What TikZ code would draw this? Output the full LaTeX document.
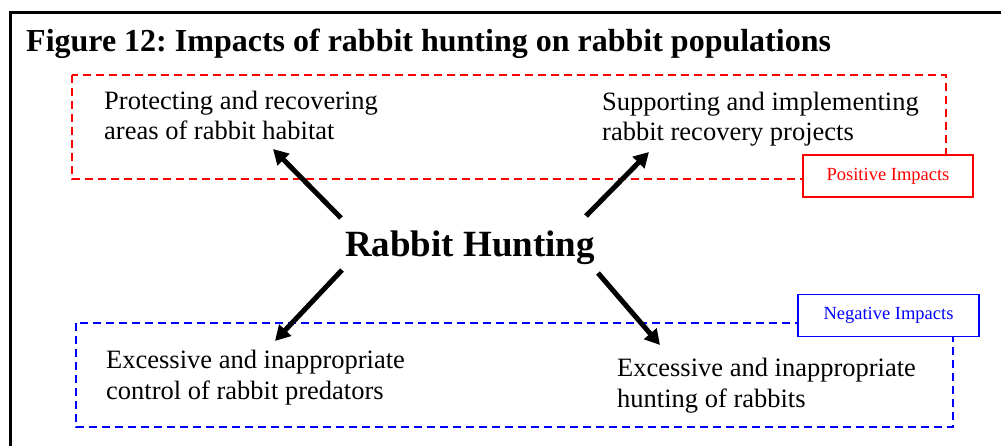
\documentclass[tikz,border=0pt]{standalone}
\usepackage{fontspec}
\setmainfont{Liberation Serif}
\usetikzlibrary{arrows.meta}
\frenchspacing
\begin{document}
\begin{tikzpicture}[x=1pt,y=-1pt,
  body/.style={inner sep=0pt,anchor=base west,align=left,font=\fontsize{26.5}{30.5}\selectfont},
  tag/.style={draw,line width=1.5pt,inner sep=0pt,minimum width=#1,minimum height=42pt,font=\fontsize{18.5}{20}\selectfont},
  zone/.style={dash pattern=on 8pt off 5pt,line width=1.5pt},
  bigarrow/.style={line width=5pt,-{Triangle[length=15pt,width=16pt]}}]
\useasboundingbox (0,0) rectangle (1001,446);
\fill[white] (0,0) rectangle (1001,446);
\begin{scope}
\clip (0,0) rectangle (1001,446);
\draw[line width=3.5pt] (10.5,12.5) rectangle (1020,470);
\end{scope}
\node[inner sep=0pt,anchor=base west,font=\fontsize{32}{36}\selectfont\bfseries] (title) at (26,52) {Figure 12: Impacts of rabbit hunting on rabbit populations};
% zones
\draw[zone,red] (72,75) rectangle (946,179);
\draw[zone,blue] (76,323) rectangle (953,427);
% labels
\node[tag=170pt,red,fill=white] (pos) at (888,176) {Positive Impacts};
\node[tag=181pt,blue,fill=white] (neg) at (888.5,315.5) {Negative Impacts};
% texts (anchor at baseline of last line)
\node[body] (tl) at (104,140) {Protecting and recovering\\areas of rabbit habitat};
\node[body] (tr) at (602,141) {Supporting and implementing\\rabbit recovery projects};
\node[body] (bl) at (106,399) {Excessive and inappropriate\\control of rabbit predators};
\node[body] (br) at (617,407) {Excessive and inappropriate\\hunting of rabbits};
% center
\node[inner sep=0pt,anchor=base,font=\fontsize{37}{40}\selectfont\bfseries] (hunt) at (470,257) {Rabbit Hunting};
% arrows
\coordinate (ul0) at (341,218); \coordinate (ul1) at (273,149);
\coordinate (ur0) at (586,216); \coordinate (ur1) at (649,152);
\coordinate (ll0) at (342,270); \coordinate (ll1) at (275,341);
\coordinate (lr0) at (598,273); \coordinate (lr1) at (660,345);
\draw[bigarrow] (ul0) -- (ul1);
\draw[bigarrow] (ur0) -- (ur1);
\draw[bigarrow] (ll0) -- (ll1);
\draw[bigarrow] (lr0) -- (lr1);
\end{tikzpicture}
\end{document}
